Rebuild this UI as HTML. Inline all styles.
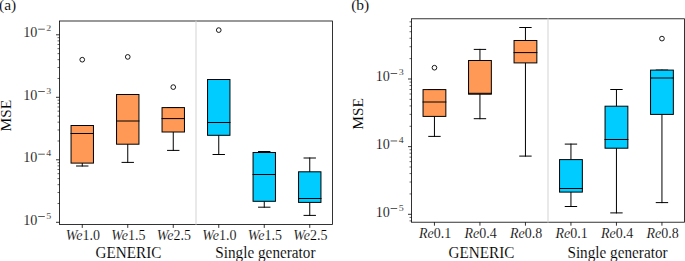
<!DOCTYPE html>
<html><head><meta charset="utf-8"><style>
html,body{margin:0;padding:0;background:#fff;}
body{width:685px;height:261px;overflow:hidden;}
svg{display:block;font-family:"Liberation Serif", serif;}
.t{stroke:#fff;stroke-width:0.15px;}
.t2{stroke:#fff;stroke-width:0.1px;}
</style></head><body>
<svg width="685" height="261" viewBox="0 0 685 261" fill="#000">
<rect width="685" height="261" fill="#fff"/>
<line x1="82.25" y1="163.10" x2="82.25" y2="166.00" stroke="#000" stroke-width="1" stroke-linecap="square"/>
<line x1="82.25" y1="125.50" x2="82.25" y2="125.50" stroke="#000" stroke-width="1" stroke-linecap="square"/>
<line x1="76.55" y1="166.00" x2="87.95" y2="166.00" stroke="#000" stroke-width="1" stroke-linecap="square"/>
<line x1="76.55" y1="125.50" x2="87.95" y2="125.50" stroke="#000" stroke-width="1" stroke-linecap="square"/>
<rect x="71.05" y="125.50" width="22.40" height="37.60" fill="#FF9955" stroke="#000" stroke-width="1" stroke-linecap="square"/>
<line x1="71.05" y1="133.50" x2="93.45" y2="133.50" stroke="#000" stroke-width="1" stroke-linecap="square"/>
<circle cx="82.25" cy="59.70" r="2.35" fill="none" stroke="#000" stroke-width="0.9"/>
<line x1="127.75" y1="144.20" x2="127.75" y2="162.40" stroke="#000" stroke-width="1" stroke-linecap="square"/>
<line x1="127.75" y1="94.50" x2="127.75" y2="94.50" stroke="#000" stroke-width="1" stroke-linecap="square"/>
<line x1="122.05" y1="162.40" x2="133.45" y2="162.40" stroke="#000" stroke-width="1" stroke-linecap="square"/>
<line x1="122.05" y1="94.50" x2="133.45" y2="94.50" stroke="#000" stroke-width="1" stroke-linecap="square"/>
<rect x="116.55" y="94.50" width="22.40" height="49.70" fill="#FF9955" stroke="#000" stroke-width="1" stroke-linecap="square"/>
<line x1="116.55" y1="121.00" x2="138.95" y2="121.00" stroke="#000" stroke-width="1" stroke-linecap="square"/>
<circle cx="127.75" cy="56.90" r="2.35" fill="none" stroke="#000" stroke-width="0.9"/>
<line x1="173.25" y1="132.00" x2="173.25" y2="150.40" stroke="#000" stroke-width="1" stroke-linecap="square"/>
<line x1="173.25" y1="107.60" x2="173.25" y2="107.60" stroke="#000" stroke-width="1" stroke-linecap="square"/>
<line x1="167.55" y1="150.40" x2="178.95" y2="150.40" stroke="#000" stroke-width="1" stroke-linecap="square"/>
<line x1="167.55" y1="107.60" x2="178.95" y2="107.60" stroke="#000" stroke-width="1" stroke-linecap="square"/>
<rect x="162.05" y="107.60" width="22.40" height="24.40" fill="#FF9955" stroke="#000" stroke-width="1" stroke-linecap="square"/>
<line x1="162.05" y1="118.60" x2="184.45" y2="118.60" stroke="#000" stroke-width="1" stroke-linecap="square"/>
<circle cx="173.25" cy="87.10" r="2.35" fill="none" stroke="#000" stroke-width="0.9"/>
<line x1="218.75" y1="135.30" x2="218.75" y2="154.50" stroke="#000" stroke-width="1" stroke-linecap="square"/>
<line x1="218.75" y1="79.50" x2="218.75" y2="79.50" stroke="#000" stroke-width="1" stroke-linecap="square"/>
<line x1="213.05" y1="154.50" x2="224.45" y2="154.50" stroke="#000" stroke-width="1" stroke-linecap="square"/>
<line x1="213.05" y1="79.50" x2="224.45" y2="79.50" stroke="#000" stroke-width="1" stroke-linecap="square"/>
<rect x="207.55" y="79.50" width="22.40" height="55.80" fill="#00CCFF" stroke="#000" stroke-width="1" stroke-linecap="square"/>
<line x1="207.55" y1="122.50" x2="229.95" y2="122.50" stroke="#000" stroke-width="1" stroke-linecap="square"/>
<circle cx="218.75" cy="30.10" r="2.35" fill="none" stroke="#000" stroke-width="0.9"/>
<line x1="264.25" y1="201.30" x2="264.25" y2="207.20" stroke="#000" stroke-width="1" stroke-linecap="square"/>
<line x1="264.25" y1="152.50" x2="264.25" y2="151.50" stroke="#000" stroke-width="1" stroke-linecap="square"/>
<line x1="258.55" y1="207.20" x2="269.95" y2="207.20" stroke="#000" stroke-width="1" stroke-linecap="square"/>
<line x1="258.55" y1="151.50" x2="269.95" y2="151.50" stroke="#000" stroke-width="1" stroke-linecap="square"/>
<rect x="253.05" y="152.50" width="22.40" height="48.80" fill="#00CCFF" stroke="#000" stroke-width="1" stroke-linecap="square"/>
<line x1="253.05" y1="174.50" x2="275.45" y2="174.50" stroke="#000" stroke-width="1" stroke-linecap="square"/>
<line x1="309.75" y1="202.40" x2="309.75" y2="215.40" stroke="#000" stroke-width="1" stroke-linecap="square"/>
<line x1="309.75" y1="171.80" x2="309.75" y2="158.00" stroke="#000" stroke-width="1" stroke-linecap="square"/>
<line x1="304.05" y1="215.40" x2="315.45" y2="215.40" stroke="#000" stroke-width="1" stroke-linecap="square"/>
<line x1="304.05" y1="158.00" x2="315.45" y2="158.00" stroke="#000" stroke-width="1" stroke-linecap="square"/>
<rect x="298.55" y="171.80" width="22.40" height="30.60" fill="#00CCFF" stroke="#000" stroke-width="1" stroke-linecap="square"/>
<line x1="298.55" y1="198.50" x2="320.95" y2="198.50" stroke="#000" stroke-width="1" stroke-linecap="square"/>
<rect x="59.50" y="21.00" width="273.00" height="203.40" fill="none" stroke="#000" stroke-width="0.8"/>
<line x1="196.00" y1="20.60" x2="196.00" y2="224.80" stroke="#d3d3d3" stroke-width="1"/>
<line x1="56.00" y1="222.30" x2="59.50" y2="222.30" stroke="#000" stroke-width="0.8"/>
<line x1="57.50" y1="203.49" x2="59.50" y2="203.49" stroke="#000" stroke-width="0.6"/>
<line x1="57.50" y1="192.48" x2="59.50" y2="192.48" stroke="#000" stroke-width="0.6"/>
<line x1="57.50" y1="184.67" x2="59.50" y2="184.67" stroke="#000" stroke-width="0.6"/>
<line x1="57.50" y1="178.61" x2="59.50" y2="178.61" stroke="#000" stroke-width="0.6"/>
<line x1="57.50" y1="173.67" x2="59.50" y2="173.67" stroke="#000" stroke-width="0.6"/>
<line x1="57.50" y1="169.48" x2="59.50" y2="169.48" stroke="#000" stroke-width="0.6"/>
<line x1="57.50" y1="165.86" x2="59.50" y2="165.86" stroke="#000" stroke-width="0.6"/>
<line x1="57.50" y1="162.66" x2="59.50" y2="162.66" stroke="#000" stroke-width="0.6"/>
<line x1="56.00" y1="159.80" x2="59.50" y2="159.80" stroke="#000" stroke-width="0.8"/>
<line x1="57.50" y1="140.99" x2="59.50" y2="140.99" stroke="#000" stroke-width="0.6"/>
<line x1="57.50" y1="129.98" x2="59.50" y2="129.98" stroke="#000" stroke-width="0.6"/>
<line x1="57.50" y1="122.17" x2="59.50" y2="122.17" stroke="#000" stroke-width="0.6"/>
<line x1="57.50" y1="116.11" x2="59.50" y2="116.11" stroke="#000" stroke-width="0.6"/>
<line x1="57.50" y1="111.17" x2="59.50" y2="111.17" stroke="#000" stroke-width="0.6"/>
<line x1="57.50" y1="106.98" x2="59.50" y2="106.98" stroke="#000" stroke-width="0.6"/>
<line x1="57.50" y1="103.36" x2="59.50" y2="103.36" stroke="#000" stroke-width="0.6"/>
<line x1="57.50" y1="100.16" x2="59.50" y2="100.16" stroke="#000" stroke-width="0.6"/>
<line x1="56.00" y1="97.30" x2="59.50" y2="97.30" stroke="#000" stroke-width="0.8"/>
<line x1="57.50" y1="78.49" x2="59.50" y2="78.49" stroke="#000" stroke-width="0.6"/>
<line x1="57.50" y1="67.48" x2="59.50" y2="67.48" stroke="#000" stroke-width="0.6"/>
<line x1="57.50" y1="59.67" x2="59.50" y2="59.67" stroke="#000" stroke-width="0.6"/>
<line x1="57.50" y1="53.61" x2="59.50" y2="53.61" stroke="#000" stroke-width="0.6"/>
<line x1="57.50" y1="48.67" x2="59.50" y2="48.67" stroke="#000" stroke-width="0.6"/>
<line x1="57.50" y1="44.48" x2="59.50" y2="44.48" stroke="#000" stroke-width="0.6"/>
<line x1="57.50" y1="40.86" x2="59.50" y2="40.86" stroke="#000" stroke-width="0.6"/>
<line x1="57.50" y1="37.66" x2="59.50" y2="37.66" stroke="#000" stroke-width="0.6"/>
<line x1="56.00" y1="34.80" x2="59.50" y2="34.80" stroke="#000" stroke-width="0.8"/>
<line x1="82.25" y1="224.40" x2="82.25" y2="227.90" stroke="#000" stroke-width="0.8"/>
<line x1="127.75" y1="224.40" x2="127.75" y2="227.90" stroke="#000" stroke-width="0.8"/>
<line x1="173.25" y1="224.40" x2="173.25" y2="227.90" stroke="#000" stroke-width="0.8"/>
<line x1="218.75" y1="224.40" x2="218.75" y2="227.90" stroke="#000" stroke-width="0.8"/>
<line x1="264.25" y1="224.40" x2="264.25" y2="227.90" stroke="#000" stroke-width="0.8"/>
<line x1="309.75" y1="224.40" x2="309.75" y2="227.90" stroke="#000" stroke-width="0.8"/>
<line x1="434.45" y1="116.40" x2="434.45" y2="136.40" stroke="#000" stroke-width="1" stroke-linecap="square"/>
<line x1="434.45" y1="89.60" x2="434.45" y2="89.60" stroke="#000" stroke-width="1" stroke-linecap="square"/>
<line x1="428.75" y1="136.40" x2="440.15" y2="136.40" stroke="#000" stroke-width="1" stroke-linecap="square"/>
<line x1="428.75" y1="89.60" x2="440.15" y2="89.60" stroke="#000" stroke-width="1" stroke-linecap="square"/>
<rect x="423.05" y="89.60" width="22.80" height="26.80" fill="#FF9955" stroke="#000" stroke-width="1" stroke-linecap="square"/>
<line x1="423.05" y1="102.00" x2="445.85" y2="102.00" stroke="#000" stroke-width="1" stroke-linecap="square"/>
<circle cx="434.45" cy="67.70" r="2.35" fill="none" stroke="#000" stroke-width="0.9"/>
<line x1="479.95" y1="94.20" x2="479.95" y2="118.70" stroke="#000" stroke-width="1" stroke-linecap="square"/>
<line x1="479.95" y1="60.50" x2="479.95" y2="49.40" stroke="#000" stroke-width="1" stroke-linecap="square"/>
<line x1="474.25" y1="118.70" x2="485.65" y2="118.70" stroke="#000" stroke-width="1" stroke-linecap="square"/>
<line x1="474.25" y1="49.40" x2="485.65" y2="49.40" stroke="#000" stroke-width="1" stroke-linecap="square"/>
<rect x="468.55" y="60.50" width="22.80" height="33.70" fill="#FF9955" stroke="#000" stroke-width="1" stroke-linecap="square"/>
<line x1="468.55" y1="93.30" x2="491.35" y2="93.30" stroke="#000" stroke-width="1" stroke-linecap="square"/>
<line x1="525.45" y1="62.90" x2="525.45" y2="156.10" stroke="#000" stroke-width="1" stroke-linecap="square"/>
<line x1="525.45" y1="40.50" x2="525.45" y2="27.50" stroke="#000" stroke-width="1" stroke-linecap="square"/>
<line x1="519.75" y1="156.10" x2="531.15" y2="156.10" stroke="#000" stroke-width="1" stroke-linecap="square"/>
<line x1="519.75" y1="27.50" x2="531.15" y2="27.50" stroke="#000" stroke-width="1" stroke-linecap="square"/>
<rect x="514.05" y="40.50" width="22.80" height="22.40" fill="#FF9955" stroke="#000" stroke-width="1" stroke-linecap="square"/>
<line x1="514.05" y1="52.60" x2="536.85" y2="52.60" stroke="#000" stroke-width="1" stroke-linecap="square"/>
<line x1="570.95" y1="192.10" x2="570.95" y2="206.50" stroke="#000" stroke-width="1" stroke-linecap="square"/>
<line x1="570.95" y1="159.60" x2="570.95" y2="144.10" stroke="#000" stroke-width="1" stroke-linecap="square"/>
<line x1="565.25" y1="206.50" x2="576.65" y2="206.50" stroke="#000" stroke-width="1" stroke-linecap="square"/>
<line x1="565.25" y1="144.10" x2="576.65" y2="144.10" stroke="#000" stroke-width="1" stroke-linecap="square"/>
<rect x="559.55" y="159.60" width="22.80" height="32.50" fill="#00CCFF" stroke="#000" stroke-width="1" stroke-linecap="square"/>
<line x1="559.55" y1="188.50" x2="582.35" y2="188.50" stroke="#000" stroke-width="1" stroke-linecap="square"/>
<line x1="616.45" y1="148.20" x2="616.45" y2="212.90" stroke="#000" stroke-width="1" stroke-linecap="square"/>
<line x1="616.45" y1="106.20" x2="616.45" y2="89.50" stroke="#000" stroke-width="1" stroke-linecap="square"/>
<line x1="610.75" y1="212.90" x2="622.15" y2="212.90" stroke="#000" stroke-width="1" stroke-linecap="square"/>
<line x1="610.75" y1="89.50" x2="622.15" y2="89.50" stroke="#000" stroke-width="1" stroke-linecap="square"/>
<rect x="605.05" y="106.20" width="22.80" height="42.00" fill="#00CCFF" stroke="#000" stroke-width="1" stroke-linecap="square"/>
<line x1="605.05" y1="139.50" x2="627.85" y2="139.50" stroke="#000" stroke-width="1" stroke-linecap="square"/>
<line x1="661.95" y1="114.40" x2="661.95" y2="202.60" stroke="#000" stroke-width="1" stroke-linecap="square"/>
<line x1="661.95" y1="70.10" x2="661.95" y2="70.10" stroke="#000" stroke-width="1" stroke-linecap="square"/>
<line x1="656.25" y1="202.60" x2="667.65" y2="202.60" stroke="#000" stroke-width="1" stroke-linecap="square"/>
<line x1="656.25" y1="70.10" x2="667.65" y2="70.10" stroke="#000" stroke-width="1" stroke-linecap="square"/>
<rect x="650.55" y="70.10" width="22.80" height="44.30" fill="#00CCFF" stroke="#000" stroke-width="1" stroke-linecap="square"/>
<line x1="650.55" y1="78.00" x2="673.35" y2="78.00" stroke="#000" stroke-width="1" stroke-linecap="square"/>
<circle cx="661.95" cy="38.60" r="2.35" fill="none" stroke="#000" stroke-width="0.9"/>
<rect x="411.50" y="18.80" width="273.00" height="203.40" fill="none" stroke="#000" stroke-width="0.8"/>
<line x1="548.00" y1="18.40" x2="548.00" y2="222.60" stroke="#d3d3d3" stroke-width="1"/>
<line x1="409.50" y1="220.86" x2="411.50" y2="220.86" stroke="#000" stroke-width="0.6"/>
<line x1="409.50" y1="217.40" x2="411.50" y2="217.40" stroke="#000" stroke-width="0.6"/>
<line x1="408.00" y1="214.30" x2="411.50" y2="214.30" stroke="#000" stroke-width="0.8"/>
<line x1="409.50" y1="193.94" x2="411.50" y2="193.94" stroke="#000" stroke-width="0.6"/>
<line x1="409.50" y1="182.02" x2="411.50" y2="182.02" stroke="#000" stroke-width="0.6"/>
<line x1="409.50" y1="173.57" x2="411.50" y2="173.57" stroke="#000" stroke-width="0.6"/>
<line x1="409.50" y1="167.01" x2="411.50" y2="167.01" stroke="#000" stroke-width="0.6"/>
<line x1="409.50" y1="161.66" x2="411.50" y2="161.66" stroke="#000" stroke-width="0.6"/>
<line x1="409.50" y1="157.13" x2="411.50" y2="157.13" stroke="#000" stroke-width="0.6"/>
<line x1="409.50" y1="153.21" x2="411.50" y2="153.21" stroke="#000" stroke-width="0.6"/>
<line x1="409.50" y1="149.75" x2="411.50" y2="149.75" stroke="#000" stroke-width="0.6"/>
<line x1="408.00" y1="146.65" x2="411.50" y2="146.65" stroke="#000" stroke-width="0.8"/>
<line x1="409.50" y1="126.29" x2="411.50" y2="126.29" stroke="#000" stroke-width="0.6"/>
<line x1="409.50" y1="114.37" x2="411.50" y2="114.37" stroke="#000" stroke-width="0.6"/>
<line x1="409.50" y1="105.92" x2="411.50" y2="105.92" stroke="#000" stroke-width="0.6"/>
<line x1="409.50" y1="99.36" x2="411.50" y2="99.36" stroke="#000" stroke-width="0.6"/>
<line x1="409.50" y1="94.01" x2="411.50" y2="94.01" stroke="#000" stroke-width="0.6"/>
<line x1="409.50" y1="89.48" x2="411.50" y2="89.48" stroke="#000" stroke-width="0.6"/>
<line x1="409.50" y1="85.56" x2="411.50" y2="85.56" stroke="#000" stroke-width="0.6"/>
<line x1="409.50" y1="82.10" x2="411.50" y2="82.10" stroke="#000" stroke-width="0.6"/>
<line x1="408.00" y1="79.00" x2="411.50" y2="79.00" stroke="#000" stroke-width="0.8"/>
<line x1="409.50" y1="58.64" x2="411.50" y2="58.64" stroke="#000" stroke-width="0.6"/>
<line x1="409.50" y1="46.72" x2="411.50" y2="46.72" stroke="#000" stroke-width="0.6"/>
<line x1="409.50" y1="38.27" x2="411.50" y2="38.27" stroke="#000" stroke-width="0.6"/>
<line x1="409.50" y1="31.71" x2="411.50" y2="31.71" stroke="#000" stroke-width="0.6"/>
<line x1="409.50" y1="26.36" x2="411.50" y2="26.36" stroke="#000" stroke-width="0.6"/>
<line x1="409.50" y1="21.83" x2="411.50" y2="21.83" stroke="#000" stroke-width="0.6"/>
<line x1="434.45" y1="222.20" x2="434.45" y2="225.70" stroke="#000" stroke-width="0.8"/>
<line x1="479.95" y1="222.20" x2="479.95" y2="225.70" stroke="#000" stroke-width="0.8"/>
<line x1="525.45" y1="222.20" x2="525.45" y2="225.70" stroke="#000" stroke-width="0.8"/>
<line x1="570.95" y1="222.20" x2="570.95" y2="225.70" stroke="#000" stroke-width="0.8"/>
<line x1="616.45" y1="222.20" x2="616.45" y2="225.70" stroke="#000" stroke-width="0.8"/>
<line x1="661.95" y1="222.20" x2="661.95" y2="225.70" stroke="#000" stroke-width="0.8"/>
<text x="23.30" y="224.70" class="t" font-size="13.6" transform="translate(23.30,0) scale(1.04,1) translate(-23.30,0)">10</text>
<rect x="38.20" y="216.30" width="6.6" height="0.65" fill="#000"/>
<text x="46.30" y="218.80" class="t" font-size="9" transform="translate(46.30,0) scale(1.1,1) translate(-46.30,0)">5</text>
<text x="23.30" y="162.20" class="t" font-size="13.6" transform="translate(23.30,0) scale(1.04,1) translate(-23.30,0)">10</text>
<rect x="38.20" y="153.80" width="6.6" height="0.65" fill="#000"/>
<text x="46.30" y="156.30" class="t" font-size="9" transform="translate(46.30,0) scale(1.1,1) translate(-46.30,0)">4</text>
<text x="23.30" y="99.70" class="t" font-size="13.6" transform="translate(23.30,0) scale(1.04,1) translate(-23.30,0)">10</text>
<rect x="38.20" y="91.30" width="6.6" height="0.65" fill="#000"/>
<text x="46.30" y="93.80" class="t" font-size="9" transform="translate(46.30,0) scale(1.1,1) translate(-46.30,0)">3</text>
<text x="23.30" y="37.20" class="t" font-size="13.6" transform="translate(23.30,0) scale(1.04,1) translate(-23.30,0)">10</text>
<rect x="38.20" y="28.80" width="6.6" height="0.65" fill="#000"/>
<text x="46.30" y="31.30" class="t" font-size="9" transform="translate(46.30,0) scale(1.1,1) translate(-46.30,0)">2</text>
<text x="375.70" y="216.70" class="t" font-size="13.6" transform="translate(375.70,0) scale(1.04,1) translate(-375.70,0)">10</text>
<rect x="390.60" y="208.30" width="6.6" height="0.65" fill="#000"/>
<text x="398.70" y="210.80" class="t" font-size="9" transform="translate(398.70,0) scale(1.1,1) translate(-398.70,0)">5</text>
<text x="375.70" y="149.05" class="t" font-size="13.6" transform="translate(375.70,0) scale(1.04,1) translate(-375.70,0)">10</text>
<rect x="390.60" y="140.65" width="6.6" height="0.65" fill="#000"/>
<text x="398.70" y="143.15" class="t" font-size="9" transform="translate(398.70,0) scale(1.1,1) translate(-398.70,0)">4</text>
<text x="375.70" y="81.40" class="t" font-size="13.6" transform="translate(375.70,0) scale(1.04,1) translate(-375.70,0)">10</text>
<rect x="390.60" y="73.00" width="6.6" height="0.65" fill="#000"/>
<text x="398.70" y="75.50" class="t" font-size="9" transform="translate(398.70,0) scale(1.1,1) translate(-398.70,0)">3</text>
<text x="0" y="0" class="t" font-size="14" text-anchor="middle" transform="translate(82.85,239.50) scale(1.0,1.0)"><tspan font-style="italic">We</tspan>1.0</text>
<text x="0" y="0" class="t" font-size="14" text-anchor="middle" transform="translate(128.35,239.50) scale(1.0,1.0)"><tspan font-style="italic">We</tspan>1.5</text>
<text x="0" y="0" class="t" font-size="14" text-anchor="middle" transform="translate(173.85,239.50) scale(1.0,1.0)"><tspan font-style="italic">We</tspan>2.5</text>
<text x="0" y="0" class="t" font-size="14" text-anchor="middle" transform="translate(219.35,239.50) scale(1.0,1.0)"><tspan font-style="italic">We</tspan>1.0</text>
<text x="0" y="0" class="t" font-size="14" text-anchor="middle" transform="translate(264.85,239.50) scale(1.0,1.0)"><tspan font-style="italic">We</tspan>1.5</text>
<text x="0" y="0" class="t" font-size="14" text-anchor="middle" transform="translate(310.35,239.50) scale(1.0,1.0)"><tspan font-style="italic">We</tspan>2.5</text>
<text x="0" y="0" class="t" font-size="14" text-anchor="middle" transform="translate(435.05,238.20) scale(1.0,1.0)"><tspan font-style="italic">Re</tspan>0.1</text>
<text x="0" y="0" class="t" font-size="14" text-anchor="middle" transform="translate(480.55,238.20) scale(1.0,1.0)"><tspan font-style="italic">Re</tspan>0.4</text>
<text x="0" y="0" class="t" font-size="14" text-anchor="middle" transform="translate(526.05,238.20) scale(1.0,1.0)"><tspan font-style="italic">Re</tspan>0.8</text>
<text x="0" y="0" class="t" font-size="14" text-anchor="middle" transform="translate(571.55,238.20) scale(1.0,1.0)"><tspan font-style="italic">Re</tspan>0.1</text>
<text x="0" y="0" class="t" font-size="14" text-anchor="middle" transform="translate(617.05,238.20) scale(1.0,1.0)"><tspan font-style="italic">Re</tspan>0.4</text>
<text x="0" y="0" class="t" font-size="14" text-anchor="middle" transform="translate(662.55,238.20) scale(1.0,1.0)"><tspan font-style="italic">Re</tspan>0.8</text>
<text class="t2" x="128.50" y="258.00" font-size="15.7" text-anchor="middle" transform="translate(128.50,0) scale(0.97,1) translate(-128.50,0)">GENERIC</text>
<text class="t2" x="265.40" y="258.00" font-size="15.7" text-anchor="middle" transform="translate(265.40,0) scale(0.97,1) translate(-265.40,0)">Single generator</text>
<text class="t2" x="481.50" y="258.00" font-size="15.7" text-anchor="middle" transform="translate(481.50,0) scale(0.97,1) translate(-481.50,0)">GENERIC</text>
<text class="t2" x="617.50" y="258.00" font-size="15.7" text-anchor="middle" transform="translate(617.50,0) scale(0.97,1) translate(-617.50,0)">Single generator</text>
<text class="t2" transform="translate(11,115.6) rotate(-90)" font-size="15.4" text-anchor="middle">MSE</text>
<text class="t2" transform="translate(363.3,113.8) rotate(-90)" font-size="15.4" text-anchor="middle">MSE</text>
<text class="t2" x="-1.0" y="10.3" font-size="15.5">(a)</text>
<text class="t2" x="351.2" y="10.3" font-size="15.5">(b)</text>
</svg>
</body></html>
